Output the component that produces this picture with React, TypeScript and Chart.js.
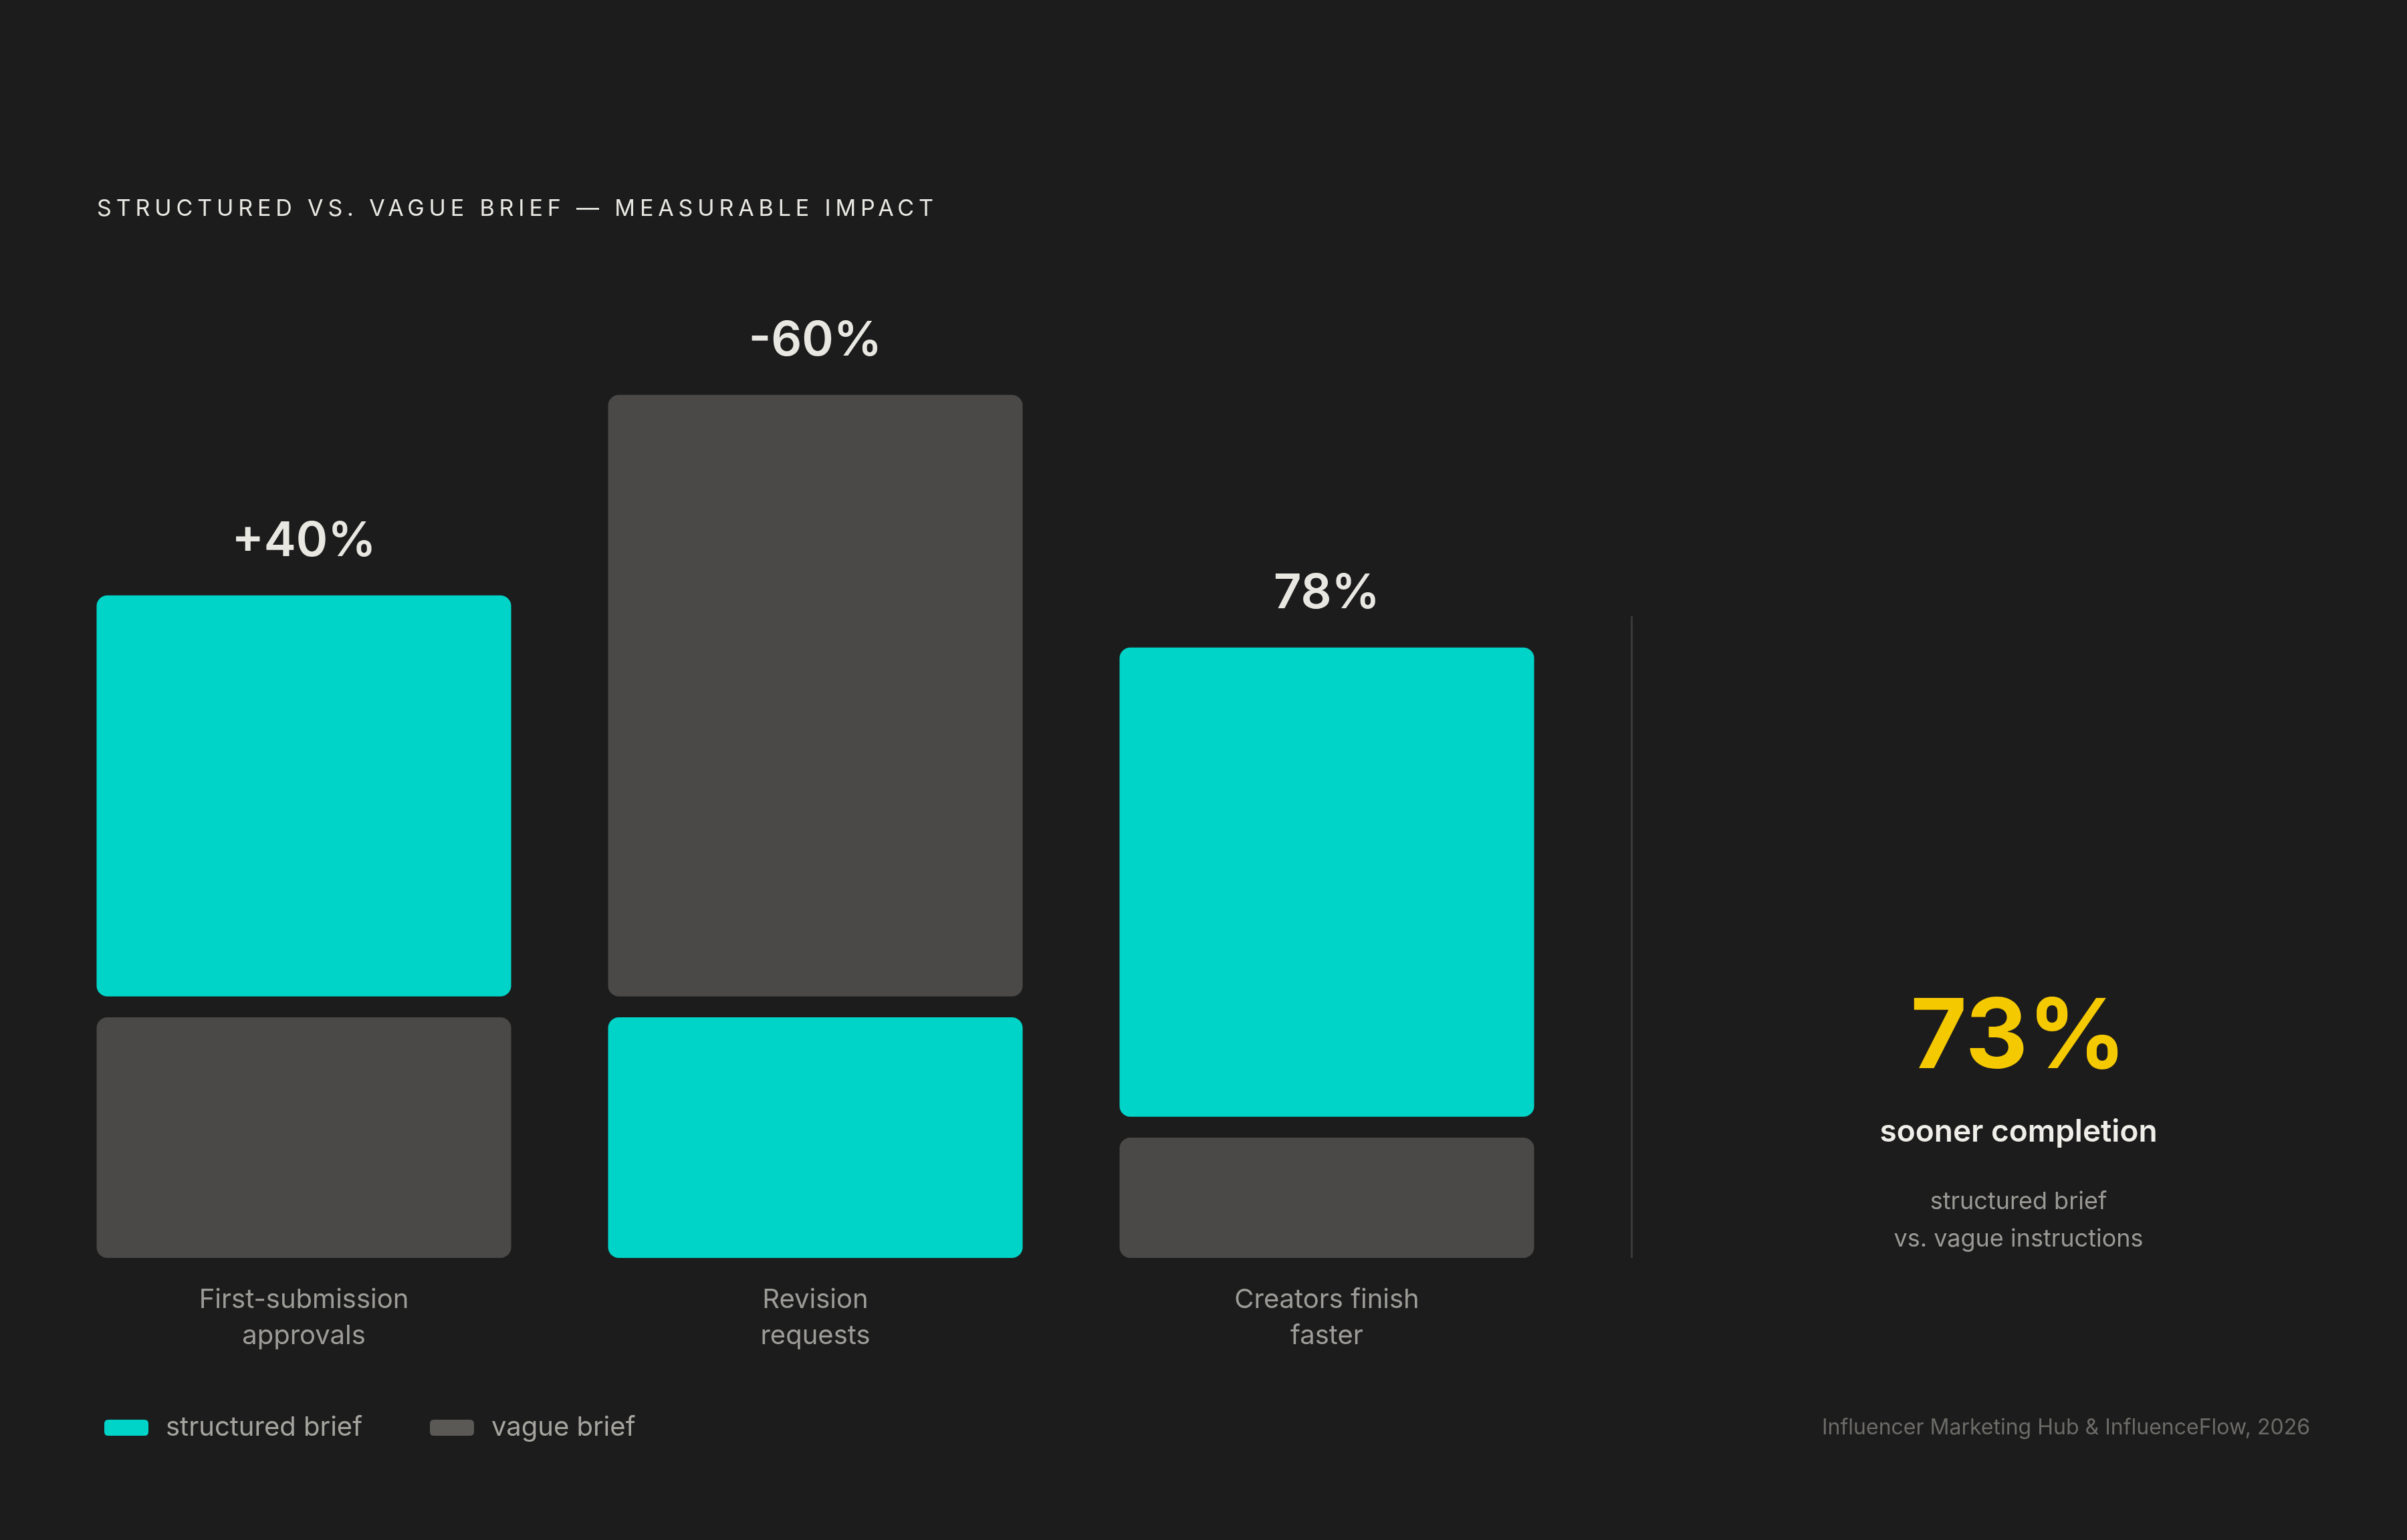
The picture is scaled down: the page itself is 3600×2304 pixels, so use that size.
import { useEffect, useRef } from "react";
import { Chart, registerables } from "chart.js";

Chart.register(...registerables);

// ---------- data ----------
const categories: string[][] = [
  ["First-submission", "approvals"],
  ["Revision", "requests"],
  ["Creators finish", "faster"],
];
const structuredValues = [100, 60, 117];
const vagueValues = [60, 150, 30];
// which series sits on top of each stack
const upperSeries = ["structured", "vague", "structured"];
const impactLabels = ["+40%", "-60%", "78%"];
const seriesNames = ["structured brief", "vague brief"];
const titleText = "STRUCTURED VS. VAGUE BRIEF \u2014 MEASURABLE IMPACT";
const headlineValue = "73%";
const headlineCaption = "sooner completion";
const headlineNote = ["structured brief", "vs. vague instructions"];
const sourceText = "Influencer Marketing Hub & InfluenceFlow, 2026";
const segmentGap = 5.2; // value units between the two stacked segments
const yMax = 247;

// ---------- style ----------
const BG = "#1c1c1c";
const TEAL = "#00d4c8";
const GREY = "#4a4947";
const GREY_LEGEND = "#5a5956";
const FONT = "Inter, 'DejaVu Sans', sans-serif";

function floating(own: number[], other: number[], name: string) {
  return own.map((v, i) =>
    upperSeries[i] === name
      ? [other[i] + segmentGap, other[i] + segmentGap + v]
      : [0, v]
  );
}

function roundRect(ctx: CanvasRenderingContext2D, x: number, y: number, w: number, h: number, r: number) {
  ctx.beginPath();
  ctx.moveTo(x + r, y);
  ctx.lineTo(x + w - r, y);
  ctx.quadraticCurveTo(x + w, y, x + w, y + r);
  ctx.lineTo(x + w, y + h - r);
  ctx.quadraticCurveTo(x + w, y + h, x + w - r, y + h);
  ctx.lineTo(x + r, y + h);
  ctx.quadraticCurveTo(x, y + h, x, y + h - r);
  ctx.lineTo(x, y + r);
  ctx.quadraticCurveTo(x, y, x + r, y);
  ctx.closePath();
}

const overlayPlugin = {
  id: "overlay",
  afterDatasetsDraw(chart: any) {
    const ctx: CanvasRenderingContext2D = chart.ctx;
    ctx.save();
    // value labels above each stack
    const metas = chart.data.datasets.map((_: any, d: number) => chart.getDatasetMeta(d));
    impactLabels.forEach((lab, i) => {
      let top = Infinity;
      let cx = 0;
      metas.forEach((m: any) => {
        const el = m.data[i];
        top = Math.min(top, el.y, el.base);
        cx = el.x;
      });
      ctx.font = `600 72px ${FONT}`;
      ctx.fillStyle = "#e8e7e2";
      ctx.textAlign = "center";
      ctx.textBaseline = "alphabetic";
      ctx.fillText(lab, cx, top - 59);
    });
    ctx.restore();
  },
  afterDraw(chart: any) {
    const ctx: CanvasRenderingContext2D = chart.ctx;
    ctx.save();
    ctx.textBaseline = "alphabetic";

    // title with letter spacing
    ctx.font = `400 34px ${FONT}`;
    ctx.fillStyle = "#e8e7e2";
    ctx.textAlign = "left";
    (ctx as any).letterSpacing = "0px";
    const w0 = ctx.measureText(titleText).width;
    const ls = (1251 - w0) / (titleText.length - 1);
    (ctx as any).letterSpacing = `${ls}px`;
    ctx.fillText(titleText, 145, 323);
    (ctx as any).letterSpacing = "0px";

    // divider
    ctx.fillStyle = "#3a3a3a";
    ctx.fillRect(2439, 922, 3, 1882 - 922);

    // headline panel
    const cx = 3019;
    ctx.textAlign = "center";
    ctx.fillStyle = "#f5c900";
    ctx.font = `700 145px ${FONT}`;
    ctx.fillText(headlineValue, cx, 1598);
    ctx.fillStyle = "#efeee9";
    ctx.font = `600 46px ${FONT}`;
    ctx.fillText(headlineCaption, cx, 1708);
    ctx.fillStyle = "#9a9995";
    ctx.font = `400 36px ${FONT}`;
    headlineNote.forEach((t, k) => ctx.fillText(t, cx, 1809 + k * 56));

    // legend
    ctx.textAlign = "left";
    ctx.font = `400 40px ${FONT}`;
    let x = 156;
    chart.data.datasets.forEach((ds: any) => {
      ctx.fillStyle = ds.legendColor;
      roundRect(ctx, x, 2124, 66, 24, 6);
      ctx.fill();
      ctx.fillStyle = "#a5a49f";
      ctx.fillText(ds.label, x + 92, 2148);
      x += 92 + ctx.measureText(ds.label).width + 101;
    });

    // source
    ctx.textAlign = "right";
    ctx.font = `400 32px ${FONT}`;
    ctx.fillStyle = "#6c6b68";
    ctx.fillText(sourceText, 3455, 2146);
    ctx.restore();
  },
};

export default function App() {
  const ref = useRef<HTMLCanvasElement | null>(null);

  useEffect(() => {
    document.body.style.margin = "0";
    document.body.style.background = BG;
    const canvas = ref.current!;
    const chart = new Chart(canvas, {
      type: "bar",
      data: {
        labels: categories as any,
        datasets: [
          {
            label: seriesNames[0],
            data: floating(structuredValues, vagueValues, "structured") as any,
            backgroundColor: TEAL,
            legendColor: TEAL,
            grouped: false,
            borderRadius: 16,
            borderSkipped: false,
            barPercentage: 0.8105,
            categoryPercentage: 1,
          } as any,
          {
            label: seriesNames[1],
            data: floating(vagueValues, structuredValues, "vague") as any,
            backgroundColor: GREY,
            legendColor: GREY_LEGEND,
            grouped: false,
            borderRadius: 16,
            borderSkipped: false,
            barPercentage: 0.8105,
            categoryPercentage: 1,
          } as any,
        ],
      },
      options: {
        animation: false,
        responsive: false,
        devicePixelRatio: 1,
        layout: { padding: { top: 400, left: 72, right: 1233, bottom: 0 } },
        plugins: {
          legend: { display: false },
          title: { display: false },
          tooltip: { enabled: false },
        },
        scales: {
          x: {
            grid: { display: false, drawTicks: false },
            border: { display: false },
            ticks: {
              color: "#9d9c98",
              font: { family: FONT, size: 40, weight: "400", lineHeight: 54 / 40 },
              padding: 36,
              maxRotation: 0,
              autoSkip: false,
            },
            afterFit: (axis: any) => {
              axis.height = 422;
            },
          },
          y: {
            display: false,
            min: 0,
            max: yMax,
          },
        },
      },
      plugins: [overlayPlugin],
    });
    return () => chart.destroy();
  }, []);

  return (
    <div
      style={{
        position: "absolute",
        left: 0,
        top: 0,
        width: 3600,
        height: 2304,
        background: BG,
      }}
    >
      <canvas ref={ref} width={3600} height={2304} style={{ width: 3600, height: 2304, display: "block" }} />
    </div>
  );
}
